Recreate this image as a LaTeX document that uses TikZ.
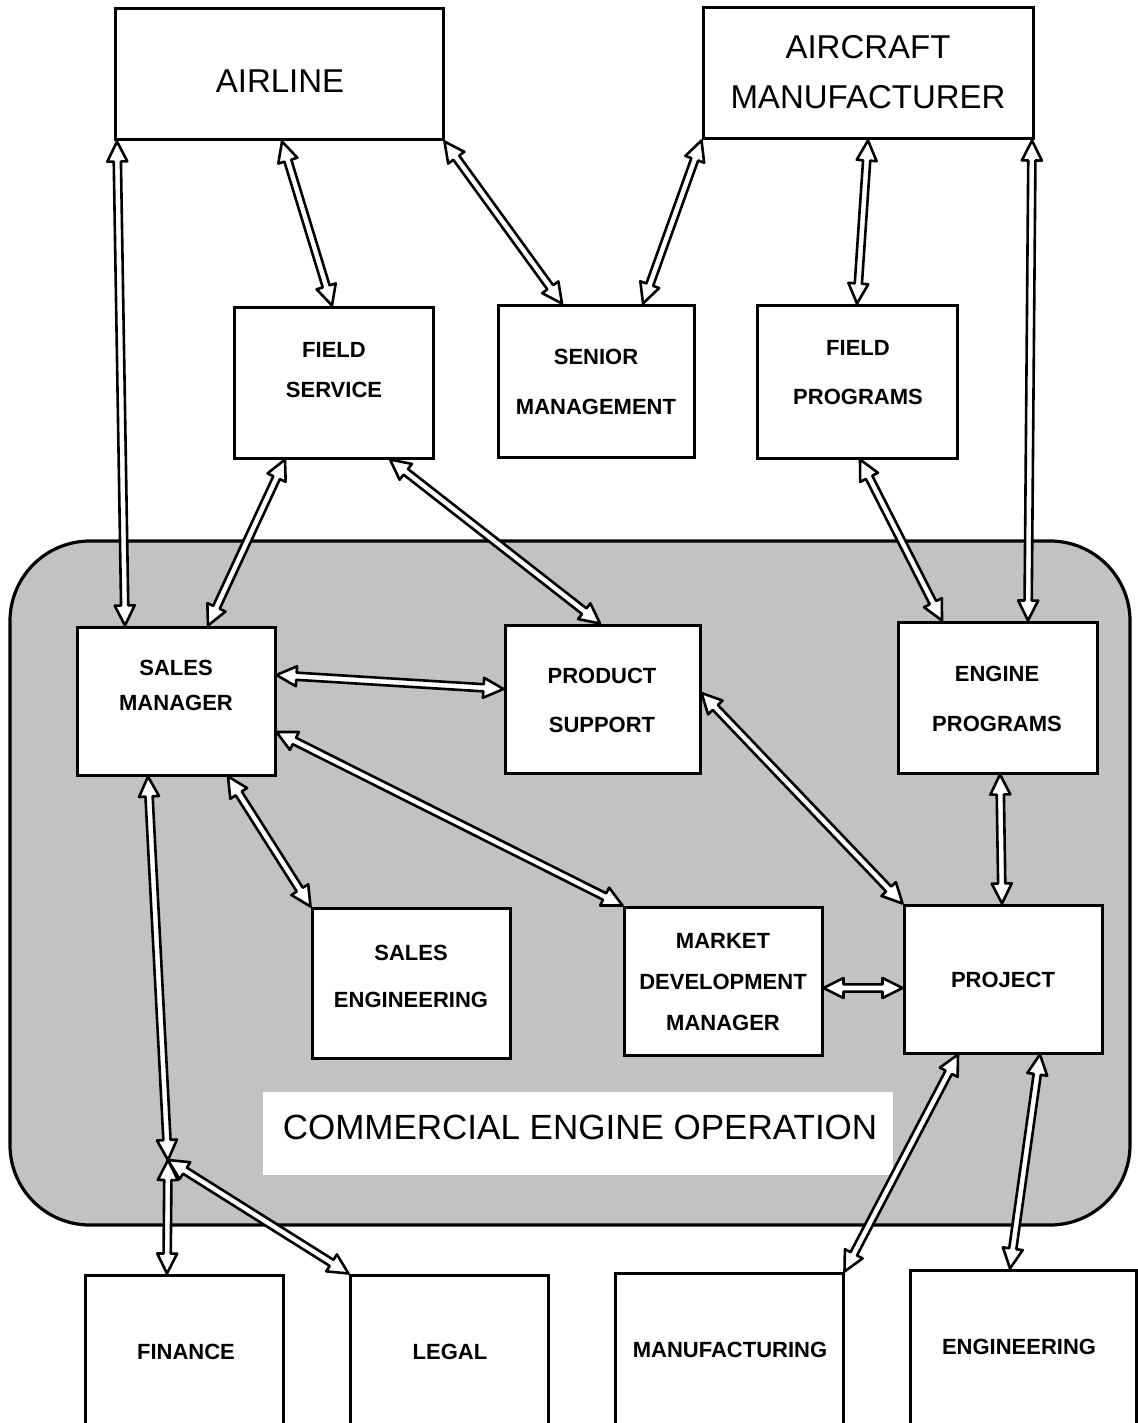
\documentclass[tikz,border=0pt]{standalone}
\usepackage{fontspec}
\setmainfont{Liberation Sans}
\usetikzlibrary{calc}
\newcommand\arL{10pt}
\newcommand\arW{5pt}
\newcommand\arw{1.8pt}
\newcommand\biarrow[2]{%
  \draw[conn] let \p1=#1, \p2=#2, \n1={atan2(\y2-\y1,\x2-\x1)} in
    (\p1) -- ($(\p1)+({\n1}:\arL)+({\n1+90}:\arW)$)
          -- ($(\p1)+({\n1}:\arL)+({\n1+90}:\arw)$)
          -- ($(\p2)+({\n1+180}:\arL)+({\n1+90}:\arw)$)
          -- ($(\p2)+({\n1+180}:\arL)+({\n1+90}:\arW)$)
          -- (\p2)
          -- ($(\p2)+({\n1+180}:\arL)+({\n1-90}:\arW)$)
          -- ($(\p2)+({\n1+180}:\arL)+({\n1-90}:\arw)$)
          -- ($(\p1)+({\n1}:\arL)+({\n1-90}:\arw)$)
          -- ($(\p1)+({\n1}:\arL)+({\n1-90}:\arW)$)
          -- cycle;}
\begin{document}
\begin{tikzpicture}[x=0.5pt,y=-0.5pt,
  box/.style={draw,line width=1.5pt,fill=white,inner sep=0pt},
  ttl/.style={font=\fontsize{16.5}{25}\selectfont,align=center,inner sep=0pt},
  lbl/.style={font=\bfseries\fontsize{11}{#1}\selectfont,align=center,inner sep=0pt},
  lbl/.default=24.5,
  conn/.style={draw=black,fill=white,line width=1.3pt,line join=round}]
\useasboundingbox[fill=white] (0,0) rectangle (1138,1423);

% shaded region
\node[draw,line width=1.6pt,fill=black!24,rounded corners=40pt,
      minimum width=560pt,minimum height=342pt,inner sep=0pt] (region) at (570,883) {};
\node[fill=white,inner sep=0pt,minimum width=315pt,minimum height=41.5pt] (ceobg) at (578,1133.5) {};

% boxes
\node[box,minimum width=164pt,minimum height=65.5pt] (airline) at (279,74.5) {};
\node[box,minimum width=165pt,minimum height=65.5pt] (acm) at (868,73.5) {};
\node[box,minimum width=99.5pt,minimum height=75.5pt] (fs) at (333.5,382.5) {};
\node[box,minimum width=98pt,minimum height=76pt] (senior) at (596,381) {};
\node[box,minimum width=100pt,minimum height=76.5pt] (fp) at (857,381.5) {};
\node[box,minimum width=99pt,minimum height=74pt] (sm) at (176,701) {};
\node[box,minimum width=97.5pt,minimum height=74pt] (ps) at (602.5,699) {};
\node[box,minimum width=99.5pt,minimum height=75.5pt] (ep) at (997.5,697.5) {};
\node[box,minimum width=99pt,minimum height=75pt] (se) at (411,983) {};
\node[box,minimum width=99pt,minimum height=74pt] (md) at (723,981) {};
\node[box,minimum width=99pt,minimum height=74pt] (pj) at (1003,979) {};
\node[box,minimum width=99pt,minimum height=77.5pt] (fin) at (184,1352.5) {};
\node[box,minimum width=99pt,minimum height=77.5pt] (legal) at (449,1352.5) {};
\node[box,minimum width=114pt,minimum height=78.5pt] (mfg) at (729,1351.5) {};
\node[box,minimum width=113pt,minimum height=80pt] (eng) at (1023,1350) {};
\coordinate (jn) at (168,1160);

% connectors
\biarrow{(airline.south -| 117,0)}{(sm.north -| 125,0)}
\biarrow{(airline.south -| 282,0)}{(fs.north -| 332,0)}
\biarrow{(airline.south east)}{(senior.north -| 562,0)}
\biarrow{(acm.south west)}{(senior.north -| 643,0)}
\biarrow{(acm.south -| 868,0)}{(fp.north -| 857,0)}
\biarrow{(acm.south -| 1032,0)}{(ep.north -| 1028,0)}
\biarrow{(fs.south -| 285,0)}{(sm.north -| 208,0)}
\biarrow{(fs.south -| 390,0)}{(ps.north -| 600,0)}
\biarrow{(fp.south -| 860,0)}{(ep.north -| 942,0)}
\biarrow{(sm.east |- 0,675)}{(ps.west |- 0,689)}
\biarrow{(sm.east |- 0,732)}{(md.north west)}
\biarrow{(sm.south -| 228,0)}{(se.north west)}
\biarrow{(ps.east |- 0,693)}{(pj.north west)}
\biarrow{(ep.south -| 1000,0)}{(pj.north -| 1002,0)}
\biarrow{(md.east |- 0,988)}{(pj.west |- 0,988)}
\biarrow{(sm.south -| 148,0)}{(jn)}
\biarrow{(jn)}{(fin.north -| 167,0)}
\biarrow{(jn)}{(legal.north west)}
\biarrow{(pj.south -| 958,0)}{(mfg.north east)}
\biarrow{(pj.south -| 1040,0)}{(eng.north -| 1010,0)}

% texts
\node[ttl] (airline-t) at (280,81) {AIRLINE};
\node[ttl] (acm-t) at (868,72) {AIRCRAFT\\MANUFACTURER};
\node[lbl=20] (fs-t) at (334,370) {FIELD\\SERVICE};
\node[lbl=25] (senior-t) at (596,382) {SENIOR\\MANAGEMENT};
\node[lbl=24.5] (fp-t) at (858,372.5) {FIELD\\PROGRAMS};
\node[lbl=17.5] (sm-t) at (176,685.5) {SALES\\MANAGER};
\node[lbl=24.5] (ps-t) at (602,700.5) {PRODUCT\\SUPPORT};
\node[lbl=25] (ep-t) at (997,699) {ENGINE\\PROGRAMS};
\node[lbl=23.5] (se-t) at (411,976.5) {SALES\\ENGINEERING};
\node[lbl=20.5] (md-t) at (723,982) {MARKET\\DEVELOPMENT\\MANAGER};
\node[lbl] (pj-t) at (1003,980) {PROJECT};
\node[lbl] (fin-t) at (186,1352) {FINANCE};
\node[lbl] (legal-t) at (450,1352) {LEGAL};
\node[lbl] (mfg-t) at (730,1350) {MANUFACTURING};
\node[lbl] (eng-t) at (1019,1347) {ENGINEERING};
\node[font=\fontsize{17.5}{21}\selectfont,inner sep=0pt] (ceo-t) at (580,1127.5) {COMMERCIAL ENGINE OPERATION};
\end{tikzpicture}
\end{document}
